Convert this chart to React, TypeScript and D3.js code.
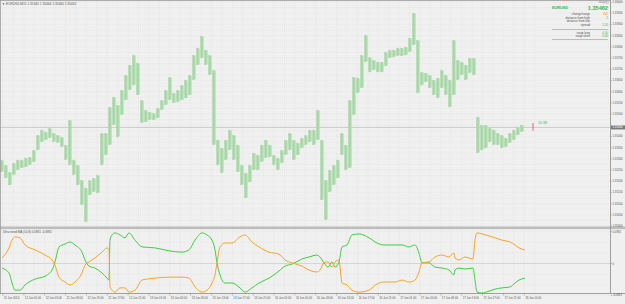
import React from 'react';
import * as d3 from 'd3';

// EURUSD bars (high / low), one bar per step
const highs = [
  1.35295, 1.35272, 1.35241, 1.35281, 1.35295, 1.35295, 1.35304, 1.35308, 1.35339, 1.35406,
  1.35429, 1.35420, 1.35437, 1.35415, 1.35406, 1.35397, 1.35362, 1.35473, 1.35295, 1.35272,
  1.35205, 1.35170, 1.35205, 1.35214, 1.35228, 1.35415, 1.35415, 1.35531, 1.35576, 1.35540,
  1.35607, 1.35674, 1.35719, 1.35763, 1.35728, 1.35562, 1.35518, 1.35509, 1.35504, 1.35527,
  1.35562, 1.35607, 1.35665, 1.35594, 1.35607, 1.35629, 1.35652, 1.35674, 1.35763, 1.35795,
  1.35848, 1.35786, 1.35763, 1.35696, 1.35384, 1.35348, 1.35384, 1.35429, 1.35406, 1.35362,
  1.35272, 1.35237, 1.35272, 1.35326, 1.35317, 1.35362, 1.35384, 1.35362, 1.35317, 1.35304,
  1.35339, 1.35384, 1.35415, 1.35384, 1.35371, 1.35393, 1.35406, 1.35429, 1.35429, 1.35518,
  1.35384, 1.35205, 1.35250, 1.35272, 1.35295, 1.35415, 1.35362, 1.35562, 1.35665, 1.35661,
  1.35763, 1.35853, 1.35754, 1.35741, 1.35732, 1.35732, 1.35777, 1.35786, 1.35786, 1.35795,
  1.35795, 1.35799, 1.35839, 1.35951, 1.35830, 1.35687, 1.35683, 1.35674, 1.35652, 1.35661,
  1.35696, 1.35674, 1.35652, 1.35830, 1.35741, 1.35732, 1.35719, 1.35750, 1.35750, 1.35487,
  1.35451, 1.35451, 1.35437, 1.35429, 1.35415, 1.35406, 1.35393, 1.35415, 1.35429, 1.35442,
  1.35451,
];
const lows = [
  1.35241, 1.35214, 1.35183, 1.35228, 1.35250, 1.35259, 1.35263, 1.35272, 1.35286, 1.35339,
  1.35375, 1.35384, 1.35393, 1.35375, 1.35371, 1.35353, 1.35295, 1.35272, 1.35228, 1.35183,
  1.35094, 1.35018, 1.35138, 1.35152, 1.35147, 1.35272, 1.35317, 1.35362, 1.35451, 1.35397,
  1.35496, 1.35562, 1.35607, 1.35629, 1.35585, 1.35460, 1.35464, 1.35473, 1.35473, 1.35482,
  1.35518, 1.35540, 1.35562, 1.35549, 1.35554, 1.35562, 1.35571, 1.35585, 1.35652, 1.35719,
  1.35750, 1.35719, 1.35674, 1.35362, 1.35272, 1.35237, 1.35295, 1.35339, 1.35295, 1.35241,
  1.35183, 1.35125, 1.35196, 1.35250, 1.35250, 1.35286, 1.35304, 1.35308, 1.35272, 1.35250,
  1.35281, 1.35317, 1.35339, 1.35295, 1.35317, 1.35348, 1.35362, 1.35375, 1.35362, 1.35384,
  1.35116, 1.35027, 1.35152, 1.35183, 1.35214, 1.35317, 1.35250, 1.35259, 1.35496, 1.35594,
  1.35616, 1.35732, 1.35687, 1.35696, 1.35687, 1.35687, 1.35714, 1.35750, 1.35754, 1.35759,
  1.35759, 1.35763, 1.35777, 1.35808, 1.35594, 1.35629, 1.35643, 1.35616, 1.35585, 1.35571,
  1.35616, 1.35585, 1.35531, 1.35585, 1.35652, 1.35674, 1.35652, 1.35683, 1.35674, 1.35326,
  1.35339, 1.35348, 1.35375, 1.35362, 1.35362, 1.35348, 1.35353, 1.35371, 1.35384, 1.35406,
  1.35420,
];
const currentPrice = 1.35440;
const priceTicks = [
  '1.35000', '1.35050', '1.35100', '1.35150', '1.35200', '1.35250', '1.35300', '1.35350',
  '1.35400', '1.35450', '1.35500', '1.35550', '1.35600', '1.35650', '1.35700', '1.35750',
  '1.35800', '1.35850', '1.35900', '1.35950', '1.36000',
];

// indicator (bar position, green line, orange line)
const indPos = [
  0, 1.75, 2.5, 3.25, 4.5, 5.75, 8.25, 10.75, 12.5, 13.25, 14.25, 15.75, 17, 18.25, 20, 20.75,
  21.75, 23.25, 25, 26.25, 26.75, 27, 27.5, 28.25, 29.5, 30.75, 31.75, 33.25, 35, 38.25, 41.75,
  45, 46.75, 48.25, 50, 51.25, 52.5, 53.25, 53.75, 54.5, 55.75, 57.5, 59.5, 60.75, 62.5, 64.25,
  66.75, 69.25, 70.75, 72.5, 75, 76.75, 78.75, 79.5, 80.5, 81.5, 82.5, 83.25, 84.25, 85, 86.25,
  87.5, 89.25, 91.75, 93.75, 95.5, 98.25, 100, 101.75, 103.25, 104.25, 105, 106.75, 108.25, 110,
  111.75, 113, 113.25, 114.25, 115.75, 117.75, 118.25, 118.75, 120, 121.75, 123.25, 125, 127,
  128.25, 129.25, 130.75,
];
const greenVals = [
  -0.014, -0.029, -0.060, -0.082, -0.082, -0.066, -0.048, -0.039, -0.020, 0.005, 0.051, 0.060,
  0.066, 0.057, 0.035, 0.011, -0.008, -0.014, -0.029, -0.045, -0.051, 0.072, 0.088, 0.094,
  0.088, 0.079, 0.094, 0.072, 0.051, 0.048, 0.039, 0.035, 0.042, 0.072, 0.094, 0.088, 0.072,
  0.042, 0.002, -0.035, -0.060, -0.060, -0.075, -0.088, -0.075, -0.060, -0.045, -0.023, -0.008,
  -0.002, 0.014, 0.020, 0.026, 0.020, 0.002, -0.011, 0.005, -0.011, 0.005, 0.051, 0.057, 0.088,
  0.091, 0.079, 0.063, 0.057, 0.057, 0.057, 0.051, 0.057, 0.032, 0.002, 0.002, -0.011, -0.014,
  -0.020, -0.035, -0.020, -0.014, -0.017, -0.014, -0.051, -0.088, -0.091, -0.085, -0.079,
  -0.075, -0.072, -0.060, -0.051, -0.045,
];
const orangeVals = [
  0.017, 0.048, 0.072, 0.082, 0.079, 0.057, 0.042, 0.026, 0.011, -0.005, -0.042, -0.057,
  -0.066, -0.057, -0.029, -0.005, 0.005, 0.017, 0.035, 0.048, 0.042, -0.072, -0.082, -0.088,
  -0.075, -0.075, -0.088, -0.082, -0.051, -0.045, -0.042, -0.042, -0.045, -0.072, -0.088,
  -0.082, -0.060, -0.035, 0.002, 0.051, 0.063, 0.063, 0.082, 0.088, 0.066, 0.051, 0.035, 0.029,
  0.011, 0.002, -0.008, -0.020, -0.026, -0.020, 0.002, 0.005, -0.011, 0.005, 0.011, -0.060,
  -0.066, -0.082, -0.088, -0.082, -0.063, -0.057, -0.057, -0.051, -0.057, -0.051, -0.026,
  0.002, 0.005, 0.020, 0.026, 0.020, 0.032, 0.017, 0.011, 0.020, 0.014, 0.072, 0.094, 0.091,
  0.085, 0.079, 0.072, 0.066, 0.057, 0.048, 0.042,
];
const indTicks = [
  { v: 0.0981, t: '0.0981' },
  { v: 0, t: '0' },
  { v: -0.0981, t: '-0.0981' },
];

const timeLabels = [
  '11 Jun 2014', '12 Jun 01:00', '12 Jun 05:00', '12 Jun 09:00', '12 Jun 13:00', '12 Jun 17:00',
  '12 Jun 21:00', '13 Jun 01:00', '13 Jun 05:00', '13 Jun 09:00', '13 Jun 13:00', '13 Jun 17:00',
  '13 Jun 21:00', '16 Jun 01:00', '16 Jun 05:00', '16 Jun 09:00', '16 Jun 13:00', '16 Jun 17:00',
  '16 Jun 21:00', '17 Jun 01:00', '17 Jun 05:00', '17 Jun 09:00', '17 Jun 13:00', '17 Jun 17:00',
  '17 Jun 21:00', '18 Jun 01:00',
];

const infoRows = [
  { label: 'change/range', value: '462', color: '#f0a020' },
  { label: 'distance from high', value: '1', color: '#2fb84a' },
  { label: 'distance from low', value: '', color: '#2fb84a' },
  { label: 'spread', value: '1.20', color: '#2fb84a' },
];
const swapRows = [
  { label: 'swap long', value: '0.50' },
  { label: 'swap short', value: '0.40' },
];

const W = 625;
const H = 304;
const AXIS_X = 610.5;
const MAIN_TOP = 1;
const MAIN_BOTTOM = 226;
const IND_TOP = 229.5;
const IND_BOTTOM = 293.5;
const FONT = 'Liberation Sans, Arial, sans-serif';
const BG = '#f0f0f0';
const GRID = '#dcdcdc';

export default function App() {
  const x = d3.scaleLinear().domain([0, 130]).range([2, 522]);
  const xt = d3.scaleLinear().domain([0, timeLabels.length - 1]).range([3, 524.25]);
  const y = d3.scaleLinear().domain([1.35, 1.36]).range([MAIN_BOTTOM, 2]);
  const yi = d3.scaleLinear().domain([-0.1, 0.1]).range([296, 231]);

  const gridX = d3.range(0, timeLabels.length * 2).map((k) => xt(k / 2));
  const gridY = d3.range(0, priceTicks.length * 2 - 1).map((k) => y(1.35 + k * 0.00025));
  const gridYi = d3.range(-3, 4).map((k) => yi(k * 0.0327));

  const line = (vals: number[]) =>
    d3
      .line<number>()
      .x((_, i) => x(indPos[i]))
      .y((d) => yi(d))
      .curve(d3.curveMonotoneX)(vals) || '';

  const cy = y(currentPrice);

  return (
    <svg
      width={W}
      height={H}
      style={{ position: 'fixed', left: 0, top: 0, display: 'block' }}
      fontFamily={FONT}
    >
      <rect x={0} y={0} width={W} height={H} fill={BG} />
      {/* grid */}
      <g stroke={GRID} strokeWidth={0.5} strokeDasharray="1,1">
        {gridX.filter((gx) => gx < AXIS_X).map((gx, i) => (
          <line key={'gx' + i} x1={gx} x2={gx} y1={MAIN_TOP} y2={MAIN_BOTTOM} />
        ))}
        {gridY.map((gy, i) => (
          <line key={'gy' + i} x1={0} x2={AXIS_X} y1={gy} y2={gy} />
        ))}
        {gridX.filter((gx) => gx < AXIS_X).map((gx, i) => (
          <line key={'gxi' + i} x1={gx} x2={gx} y1={IND_TOP} y2={IND_BOTTOM} />
        ))}
        {gridYi.map((gy, i) => (
          <line key={'gyi' + i} x1={0} x2={AXIS_X} y1={gy} y2={gy} />
        ))}
      </g>

      {/* current price line */}
      <line x1={0} x2={AXIS_X} y1={cy} y2={cy} stroke="#c4c4c4" strokeWidth={0.8} />

      {/* bars */}
      <g>
        {highs.map((h, i) => (
          <g key={'b' + i}>
            <rect
              x={x(i) - 1.5}
              width={3}
              y={y(h)}
              height={Math.max(1, y(lows[i]) - y(h))}
              fill="#c2e3c2"
            />
            <line x1={x(i) - 0.9} x2={x(i) - 0.9} y1={y(h)} y2={y(lows[i])} stroke="#7cc47c" strokeWidth={0.7} />
            <line x1={x(i) + 0.9} x2={x(i) + 0.9} y1={y(h) + 1} y2={y(lows[i]) - 1} stroke="#8ccc8c" strokeWidth={0.6} />
          </g>
        ))}
      </g>

      {/* forming tick and countdown */}
      <line x1={533} x2={533} y1={y(1.3546)} y2={y(1.35425)} stroke="#e04848" strokeWidth={0.8} />
      <text x={538} y={y(1.35455)} fontSize={3.6} fill="#2fb84a">15:38</text>

      {/* title */}
      <path d="M2.5,3.2 L4.5,3.2 L3.5,5 Z" fill="#555" />
      <text x={6} y={5.2} fontSize={3.2} fill="#555">
        EURUSD,M15  1.35461 1.35464 1.35460 1.35462
      </text>

      {/* info panel */}
      <text x={606} y={3.4} fontSize={2.6} fill="#777" textAnchor="end">4Days</text>
      <rect x={606.5} y={1.3} width={2.2} height={2.2} fill="none" stroke="#999" strokeWidth={0.4} />
      <text x={552} y={9} fontSize={3.8} fill="#2fb84a" fontWeight="bold">EURUSD</text>
      <text x={608} y={10} fontSize={5.6} fill="#2fb84a" fontWeight="bold" textAnchor="end">
        1.35462
      </text>
      {infoRows.map((r, i) => (
        <g key={'ir' + i}>
          <text x={590} y={15 + i * 3.6} fontSize={3} fill="#555" textAnchor="end">{r.label}</text>
          <text x={608} y={15 + i * 3.6} fontSize={3} fill={r.color} textAnchor="end">{r.value}</text>
        </g>
      ))}
      <line x1={552} x2={608} y1={29.5} y2={29.5} stroke="#888" strokeWidth={0.5} />
      {swapRows.map((r, i) => (
        <g key={'sr' + i}>
          <text x={590} y={33.5 + i * 3.6} fontSize={3} fill="#555" textAnchor="end">{r.label}</text>
          <text x={608} y={33.5 + i * 3.6} fontSize={3} fill="#2fb84a" textAnchor="end">{r.value}</text>
        </g>
      ))}
      <line x1={552} x2={608} y1={39.5} y2={39.5} stroke="#888" strokeWidth={0.5} />

      {/* separator */}
      <rect x={0} y={MAIN_BOTTOM + 0.5} width={W} height={2.6} fill="#bdbdbd" />

      {/* indicator */}
      <line x1={0} x2={AXIS_X} y1={yi(0)} y2={yi(0)} stroke="#c8c8c8" strokeWidth={0.6} />
      <text x={3} y={233} fontSize={3} fill="#555">
        Ultra trend MA (14,8) 0.0981 -0.0981
      </text>
      <path d={line(greenVals)} fill="none" stroke="#3ccf3c" strokeWidth={1} />
      <path d={line(orangeVals)} fill="none" stroke="#f5a623" strokeWidth={1} />

      {/* frame and axes */}
      <line x1={0.5} x2={0.5} y1={0} y2={IND_BOTTOM} stroke="#9a9a9a" strokeWidth={0.8} />
      <line x1={0} x2={AXIS_X} y1={0.5} y2={0.5} stroke="#9a9a9a" strokeWidth={0.8} />
      <line x1={AXIS_X} x2={AXIS_X} y1={0} y2={IND_BOTTOM} stroke="#8a8a8a" strokeWidth={0.8} />
      <line x1={0} x2={W} y1={IND_BOTTOM} y2={IND_BOTTOM} stroke="#8a8a8a" strokeWidth={0.8} />

      {/* price axis */}
      {priceTicks
        .filter((t) => Math.abs(y(+t) - cy) > 4)
        .map((t, i) => {
          const ty = y(+t);
          return (
            <g key={'pt' + i}>
              <line x1={AXIS_X} x2={AXIS_X + 1.5} y1={ty} y2={ty} stroke="#888" strokeWidth={0.5} />
              <text x={AXIS_X + 2} y={ty + 1} fontSize={2.8} fill="#555">{t}</text>
            </g>
          );
        })}
      <rect x={AXIS_X + 0.5} y={cy - 2} width={W - AXIS_X} height={4} fill="#7a7a7a" />
      <text x={AXIS_X + 2} y={cy + 1} fontSize={2.8} fill="#fff">{currentPrice.toFixed(5)}</text>

      {/* indicator axis */}
      {indTicks.map((t, i) => (
        <g key={'it' + i}>
          <line x1={AXIS_X} x2={AXIS_X + 1.5} y1={yi(t.v)} y2={yi(t.v)} stroke="#888" strokeWidth={0.5} />
          <text x={AXIS_X + 2} y={yi(t.v) + 1} fontSize={2.8} fill="#555">{t.t}</text>
        </g>
      ))}

      {/* time axis */}
      {timeLabels.map((t, i) => (
        <g key={'tl' + i}>
          <line x1={xt(i)} x2={xt(i)} y1={IND_BOTTOM} y2={IND_BOTTOM + 2} stroke="#888" strokeWidth={0.5} />
          <text x={xt(i) + 1} y={299} fontSize={2.8} fill="#555">{t}</text>
        </g>
      ))}
    </svg>
  );
}
